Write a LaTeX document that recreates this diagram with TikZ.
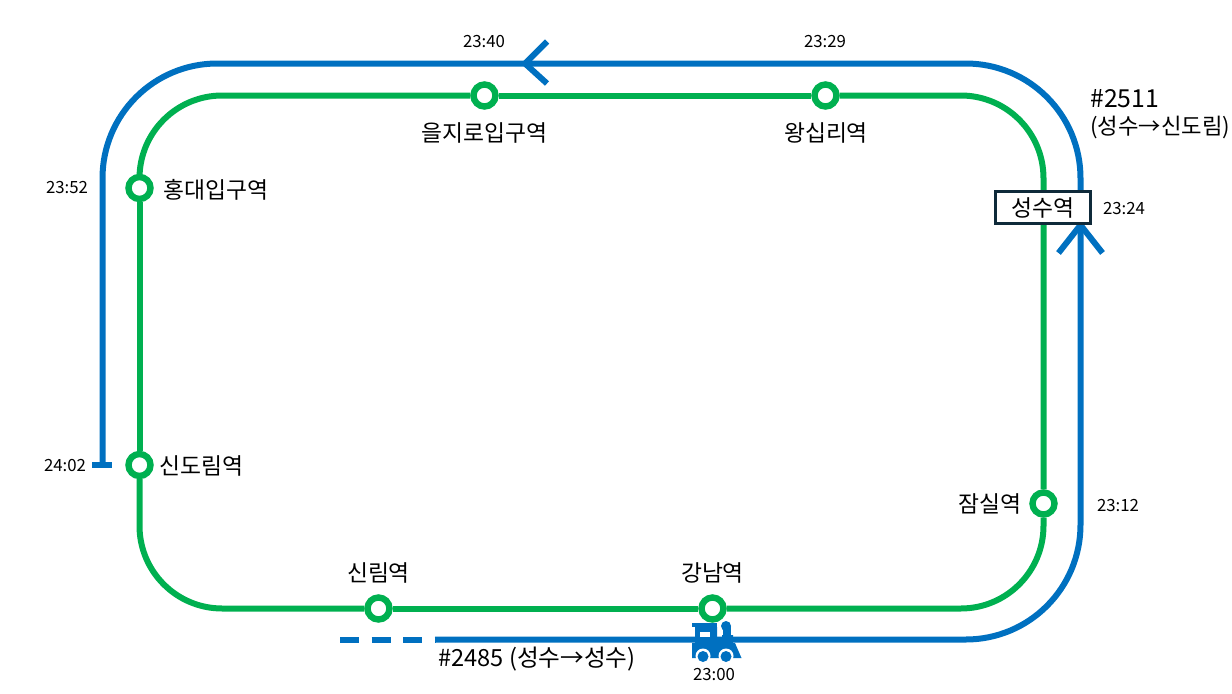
\documentclass[tikz,border=0pt]{standalone}
\usepackage{fontspec}
\setmainfont{Noto Sans CJK KR}
\definecolor{linegreen}{HTML}{00B050}
\definecolor{lineblue}{HTML}{0070C0}
\definecolor{boxnavy}{HTML}{0F2A3A}

\begin{document}
\begin{tikzpicture}[x=0.75pt, y=-0.75pt,
  greenline/.style={draw=linegreen, line width=4.5pt, rounded corners=62pt},
  blueline/.style={draw=lineblue, line width=4.5pt, rounded corners=86pt},
  bluebarb/.style={draw=lineblue, line width=4.5pt},
  station/.style={circle, draw=linegreen, fill=white, line width=4.8pt, minimum size=16.5pt, inner sep=0pt},
  stname/.style={font=\fontsize{17.1}{20}\selectfont, inner sep=0pt},
  timelabel/.style={font=\fontsize{12.6}{14}\selectfont, inner sep=0pt},
  trainlabel/.style={font=\fontsize{17.7}{20}\selectfont, inner sep=0pt, anchor=west},
]
  \useasboundingbox (0,0) rectangle (1232,693);

  \node[station] (hongdae)  at (139.5,188) {};
  \node[station] (sindorim) at (139.5,465) {};
  \node[station] (euljiro)  at (484.5,95.5)  {};
  \node[station] (wangsimni) at (825.5,95.5) {};
  \node[station] (jamsil)   at (1043.5,503.5) {};
  \node[station] (gangnam)  at (712.5,608.5) {};
  \node[station] (sillim)   at (378.5,608.5) {};

  \draw[greenline] (hongdae.north) |- (euljiro.west);
  \draw[greenline] (euljiro.east) -- (wangsimni.west);
  \draw[greenline] (wangsimni.east) -| (jamsil.north);
  \draw[greenline] (jamsil.south) |- (gangnam.east);
  \draw[greenline] (gangnam.west) -- (sillim.east);
  \draw[greenline] (sillim.west) -| (sindorim.south);
  \draw[greenline] (sindorim.north) -- (hongdae.south);

  \coordinate (dashstart) at (340,639.5);
  \coordinate (solidstart) at (435,639.5);
  \coordinate (uptip) at (1080.5,225);
  \coordinate (upbarbl) at (1058.5,253);
  \coordinate (upbarbr) at (1102.5,253);
  \coordinate (resume) at (1080.5,200);
  \coordinate (lefttip) at (525,63.5);
  \coordinate (leftbarbt) at (547,41.5);
  \coordinate (leftbarbb) at (547,83.5);
  \coordinate (lineend) at (102.5,465);
  \coordinate (endbarl) at (92,465);
  \coordinate (endbarr) at (112,465);

  \draw[bluebarb, dash pattern=on 14.25pt off 9.4pt] (dashstart) -- (solidstart);
  \draw[blueline] (solidstart) -| (uptip);
  \draw[bluebarb] (upbarbl) -- (uptip) -- (upbarbr);
  \draw[blueline] (resume) |- (lefttip);
  \draw[bluebarb] (leftbarbt) -- (lefttip) -- (leftbarbb);
  \draw[blueline] (lefttip) -| (lineend);
  \draw[bluebarb] (endbarl) -- (endbarr);

  \node[draw=boxnavy, fill=white, line width=1.8pt, minimum width=71pt, minimum height=24pt,
        inner sep=0pt, font=\fontsize{17.1}{20}\selectfont] (seongsu) at (1043,207.5) {성수역};

  \fill[lineblue] (692,623) rectangle (717,627);
  \fill[lineblue] (695,627) -- (717,627) -- (717,637) -- (722,637) -- (722,635) -- (733,635)
    -- (733,643) -- (735,643) -- (741.5,658) -- (692,658) -- (692,643) -- (695,643) -- cycle;
  \fill[lineblue] (723,626) rectangle (731,640);
  \fill[lineblue] (726,626) circle (5);
  \fill[white] (700,632) rectangle (710,637);
  \fill[white] (703,656) circle (7.5) (726,656) circle (7.5);
  \fill[lineblue] (703,656.5) circle (5.5) (726,656.5) circle (5.5);

  \node[stname] (hongdaename)  [anchor=west] at (163,190) {홍대입구역};
  \node[stname] (sindorimname) [anchor=west] at (159,466) {신도림역};
  \node[stname] (euljironame)  at (484.5,133) {을지로입구역};
  \node[stname] (wangsimniname) at (826,133) {왕십리역};
  \node[stname] (jamsilname)   [anchor=east] at (1022,504) {잠실역};
  \node[stname] (gangnamname)  at (712.5,573) {강남역};
  \node[stname] (sillimname)   at (378.5,573) {신림역};

  \node[timelabel] (t2340) at (484,41.5)  {23:40};
  \node[timelabel] (t2329) at (825,41.5)  {23:29};
  \node[timelabel] (t2352) at (67,187.5)  {23:52};
  \node[timelabel] (t2402) at (65,465.5)  {24:02};
  \node[timelabel] (t2324) at (1124,208.5) {23:24};
  \node[timelabel] (t2312) at (1118,505.5) {23:12};
  \node[timelabel] (t2300) at (714,675) {23:00};

  \node[trainlabel, font=\fontsize{18.6}{20}\selectfont] (train2511) at (1090,99)  {\#2511};
  \node[trainlabel, font=\fontsize{16.7}{20}\selectfont] (route2511) at (1090,127) {(성수→신도림)};
  \node[trainlabel] (train2485) at (438,659)  {\#2485 (성수→성수)};
\end{tikzpicture}
\end{document}
